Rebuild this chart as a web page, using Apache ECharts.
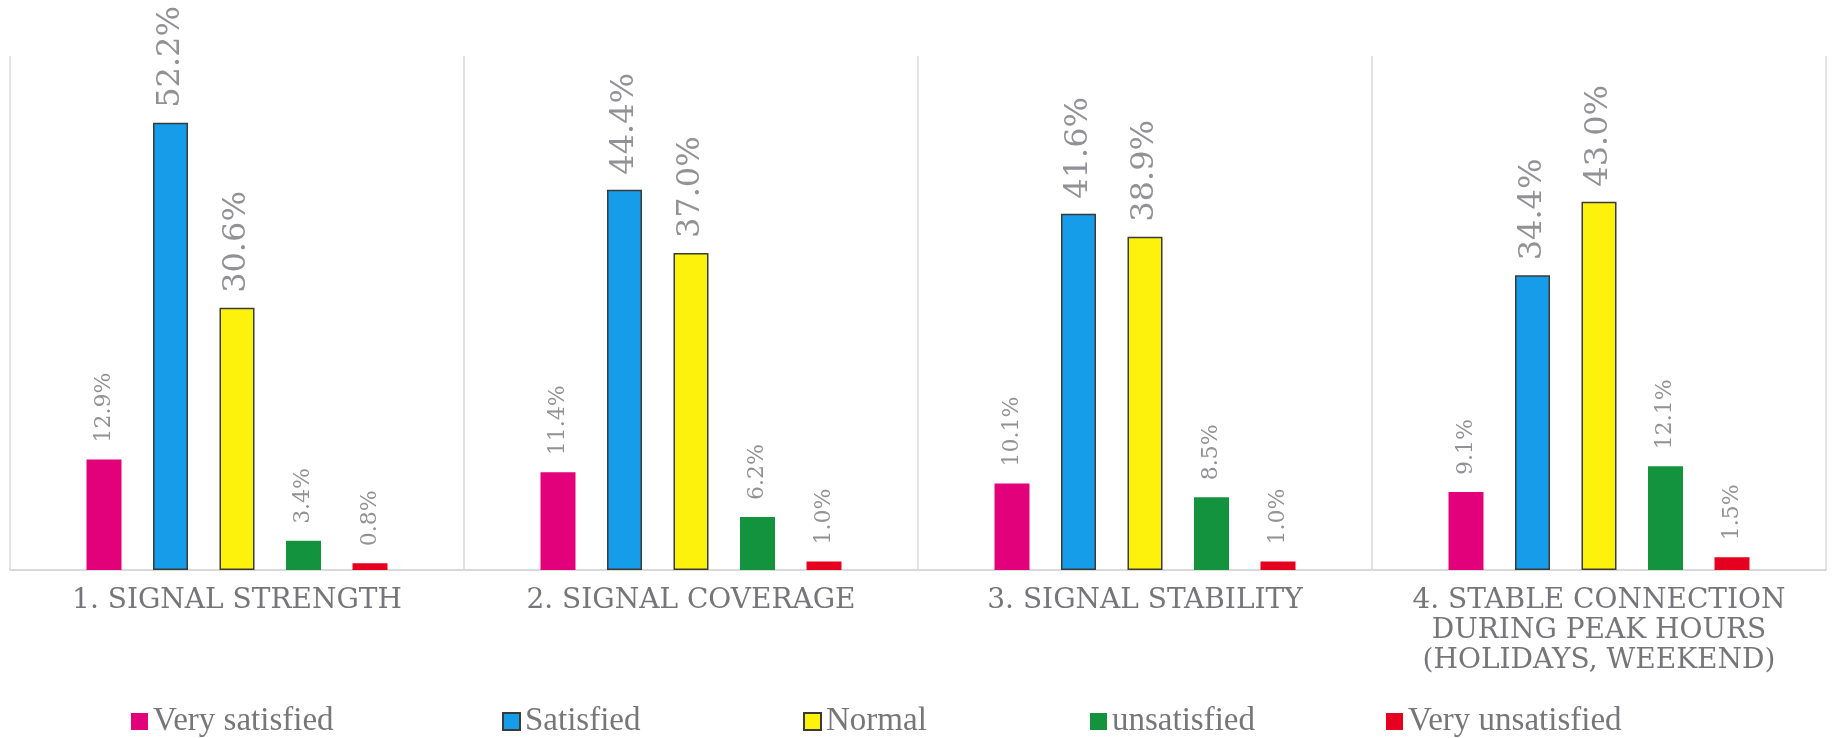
<!DOCTYPE html>
<html>
<head>
<meta charset="utf-8">
<script src="https://cdn.jsdelivr.net/npm/echarts@6/dist/echarts.min.js"></script>
<style>
  html, body { margin: 0; padding: 0; background: #ffffff; }
  #chart { width: 1834px; height: 738px; }
</style>
</head>
<body>
<div id="chart"></div>
<script>
// Survey questions (x categories)
const categories = [
  '1. SIGNAL STRENGTH',
  '2. SIGNAL COVERAGE',
  '3. SIGNAL STABILITY',
  '4. STABLE CONNECTION\nDURING PEAK HOURS\n(HOLIDAYS, WEEKEND)'
];

// Share of answers per satisfaction level, in percent
const verySatisfied   = [12.9, 11.4, 10.1, 9.1];
const satisfied       = [52.2, 44.4, 41.6, 34.4];
const normal          = [30.6, 37.0, 38.9, 43.0];
const unsatisfied     = [3.4, 6.2, 8.5, 12.1];
const veryUnsatisfied = [0.8, 1.0, 1.0, 1.5];

const seriesNames = ['Very satisfied', 'Satisfied', 'Normal', 'unsatisfied', 'Very unsatisfied'];
const seriesData = [verySatisfied, satisfied, normal, unsatisfied, veryUnsatisfied];
const seriesColors = ['#e3007b', '#169de9', '#fdf20b', '#14933f', '#e6001f'];
const outlined = [false, true, true, false, false];
const bigLabel = [false, true, true, false, false];

// Horizontal start of each legend entry (the legend box adds 5px padding)
const legendLeft = [126, 497, 798, 1085, 1381];

const chart = echarts.init(document.getElementById('chart'));

const series = seriesNames.map((name, i) => ({
  name: name,
  type: 'bar',
  data: seriesData[i],
  barWidth: 35,
  barGap: '90%',
  itemStyle: {
    color: seriesColors[i],
    borderColor: outlined[i] ? '#3a3a3a' : seriesColors[i],
    borderWidth: outlined[i] ? 1.5 : 0
  },
  label: {
    show: true,
    position: 'top',
    rotate: 90,
    align: 'left',
    verticalAlign: 'middle',
    distance: bigLabel[i] ? 15 : 17,
    fontFamily: 'DejaVu Serif',
    fontSize: bigLabel[i] ? 32 : 22,
    color: '#929296',
    formatter: p => p.value.toFixed(1) + '%'
  }
}));

const legends = seriesNames.map((name, i) => ({
  left: legendLeft[i],
  top: 700,
  itemWidth: 17,
  itemHeight: 17,
  icon: 'rect',
  textStyle: {
    fontFamily: 'Liberation Serif',
    fontSize: 33,
    color: '#77777b'
  },
  data: [name]
}));

chart.setOption({
  animation: false,
  backgroundColor: '#ffffff',
  grid: { left: 10, right: 8, top: 56, bottom: 168 },
  legend: legends,
  xAxis: {
    type: 'category',
    data: categories,
    axisLine: { show: true, lineStyle: { color: '#d9d9d9', width: 2 } },
    axisTick: { show: false },
    splitLine: { show: true, interval: 0, lineStyle: { color: '#d9d9d9', width: 1.5 } },
    axisLabel: {
      interval: 0,
      margin: 16,
      fontFamily: 'DejaVu Serif',
      fontSize: 28,
      lineHeight: 30,
      color: '#76767a'
    }
  },
  yAxis: {
    type: 'value',
    min: 0,
    max: 60,
    interval: 10,
    axisLine: { show: false },
    axisTick: { show: false },
    axisLabel: { show: false },
    splitLine: { show: false }
  },
  series: series
});
</script>
</body>
</html>
